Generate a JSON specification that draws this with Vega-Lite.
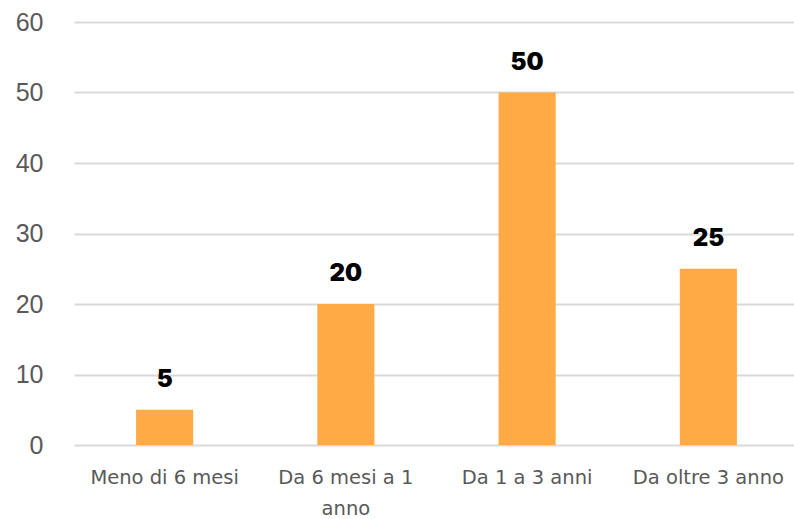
{
  "$schema": "https://vega.github.io/schema/vega-lite/v6.json",
  "width": 725,
  "height": 423,
  "autosize": "none",
  "padding": {"left": 74, "top": 22, "right": 0, "bottom": 74},
  "background": "white",
  "config": {"view": {"stroke": null}},
  "data": {"values": [
    {"cat": "Meno di 6 mesi", "v": 5},
    {"cat": "Da 6 mesi a 1 anno", "v": 20},
    {"cat": "Da 1 a 3 anni", "v": 50},
    {"cat": "Da oltre 3 anno", "v": 25}
  ]},
  "encoding": {
    "x": {"field": "cat", "type": "nominal", "sort": null,
      "scale": {"paddingInner": 0, "paddingOuter": 0},
      "axis": {"title": null, "labelAngle": 0, "domain": false, "ticks": false,
        "labelFont": "DejaVu Sans", "labelFontSize": 19.5, "labelColor": "#595959",
        "labelPadding": 23, "labelLineHeight": 31, "labelBaseline": "top",
        "labelExpr": "datum.value == 'Da 6 mesi a 1 anno' ? ['Da 6 mesi a 1', 'anno'] : datum.value"}},
    "y": {"field": "v", "type": "quantitative",
      "scale": {"domain": [0, 60], "nice": false},
      "axis": {"title": null, "values": [0,10,20,30,40,50,60], "domain": false, "ticks": false,
        "labelFont": "Liberation Sans", "labelFontSize": 25, "labelColor": "#595959", "labelPadding": 31,
        "gridColor": "#d9d9d9", "gridWidth": 2}}
  },
  "layer": [
    {"mark": {"type": "bar", "color": "#FFAA45", "width": {"band": 0.315}}},
    {"mark": {"type": "text", "baseline": "bottom", "dy": -18, "font": "Inter", "fontWeight": 900, "fontSize": 24, "color": "#000000"},
     "encoding": {"text": {"field": "v", "type": "quantitative"}}}
  ]
}
